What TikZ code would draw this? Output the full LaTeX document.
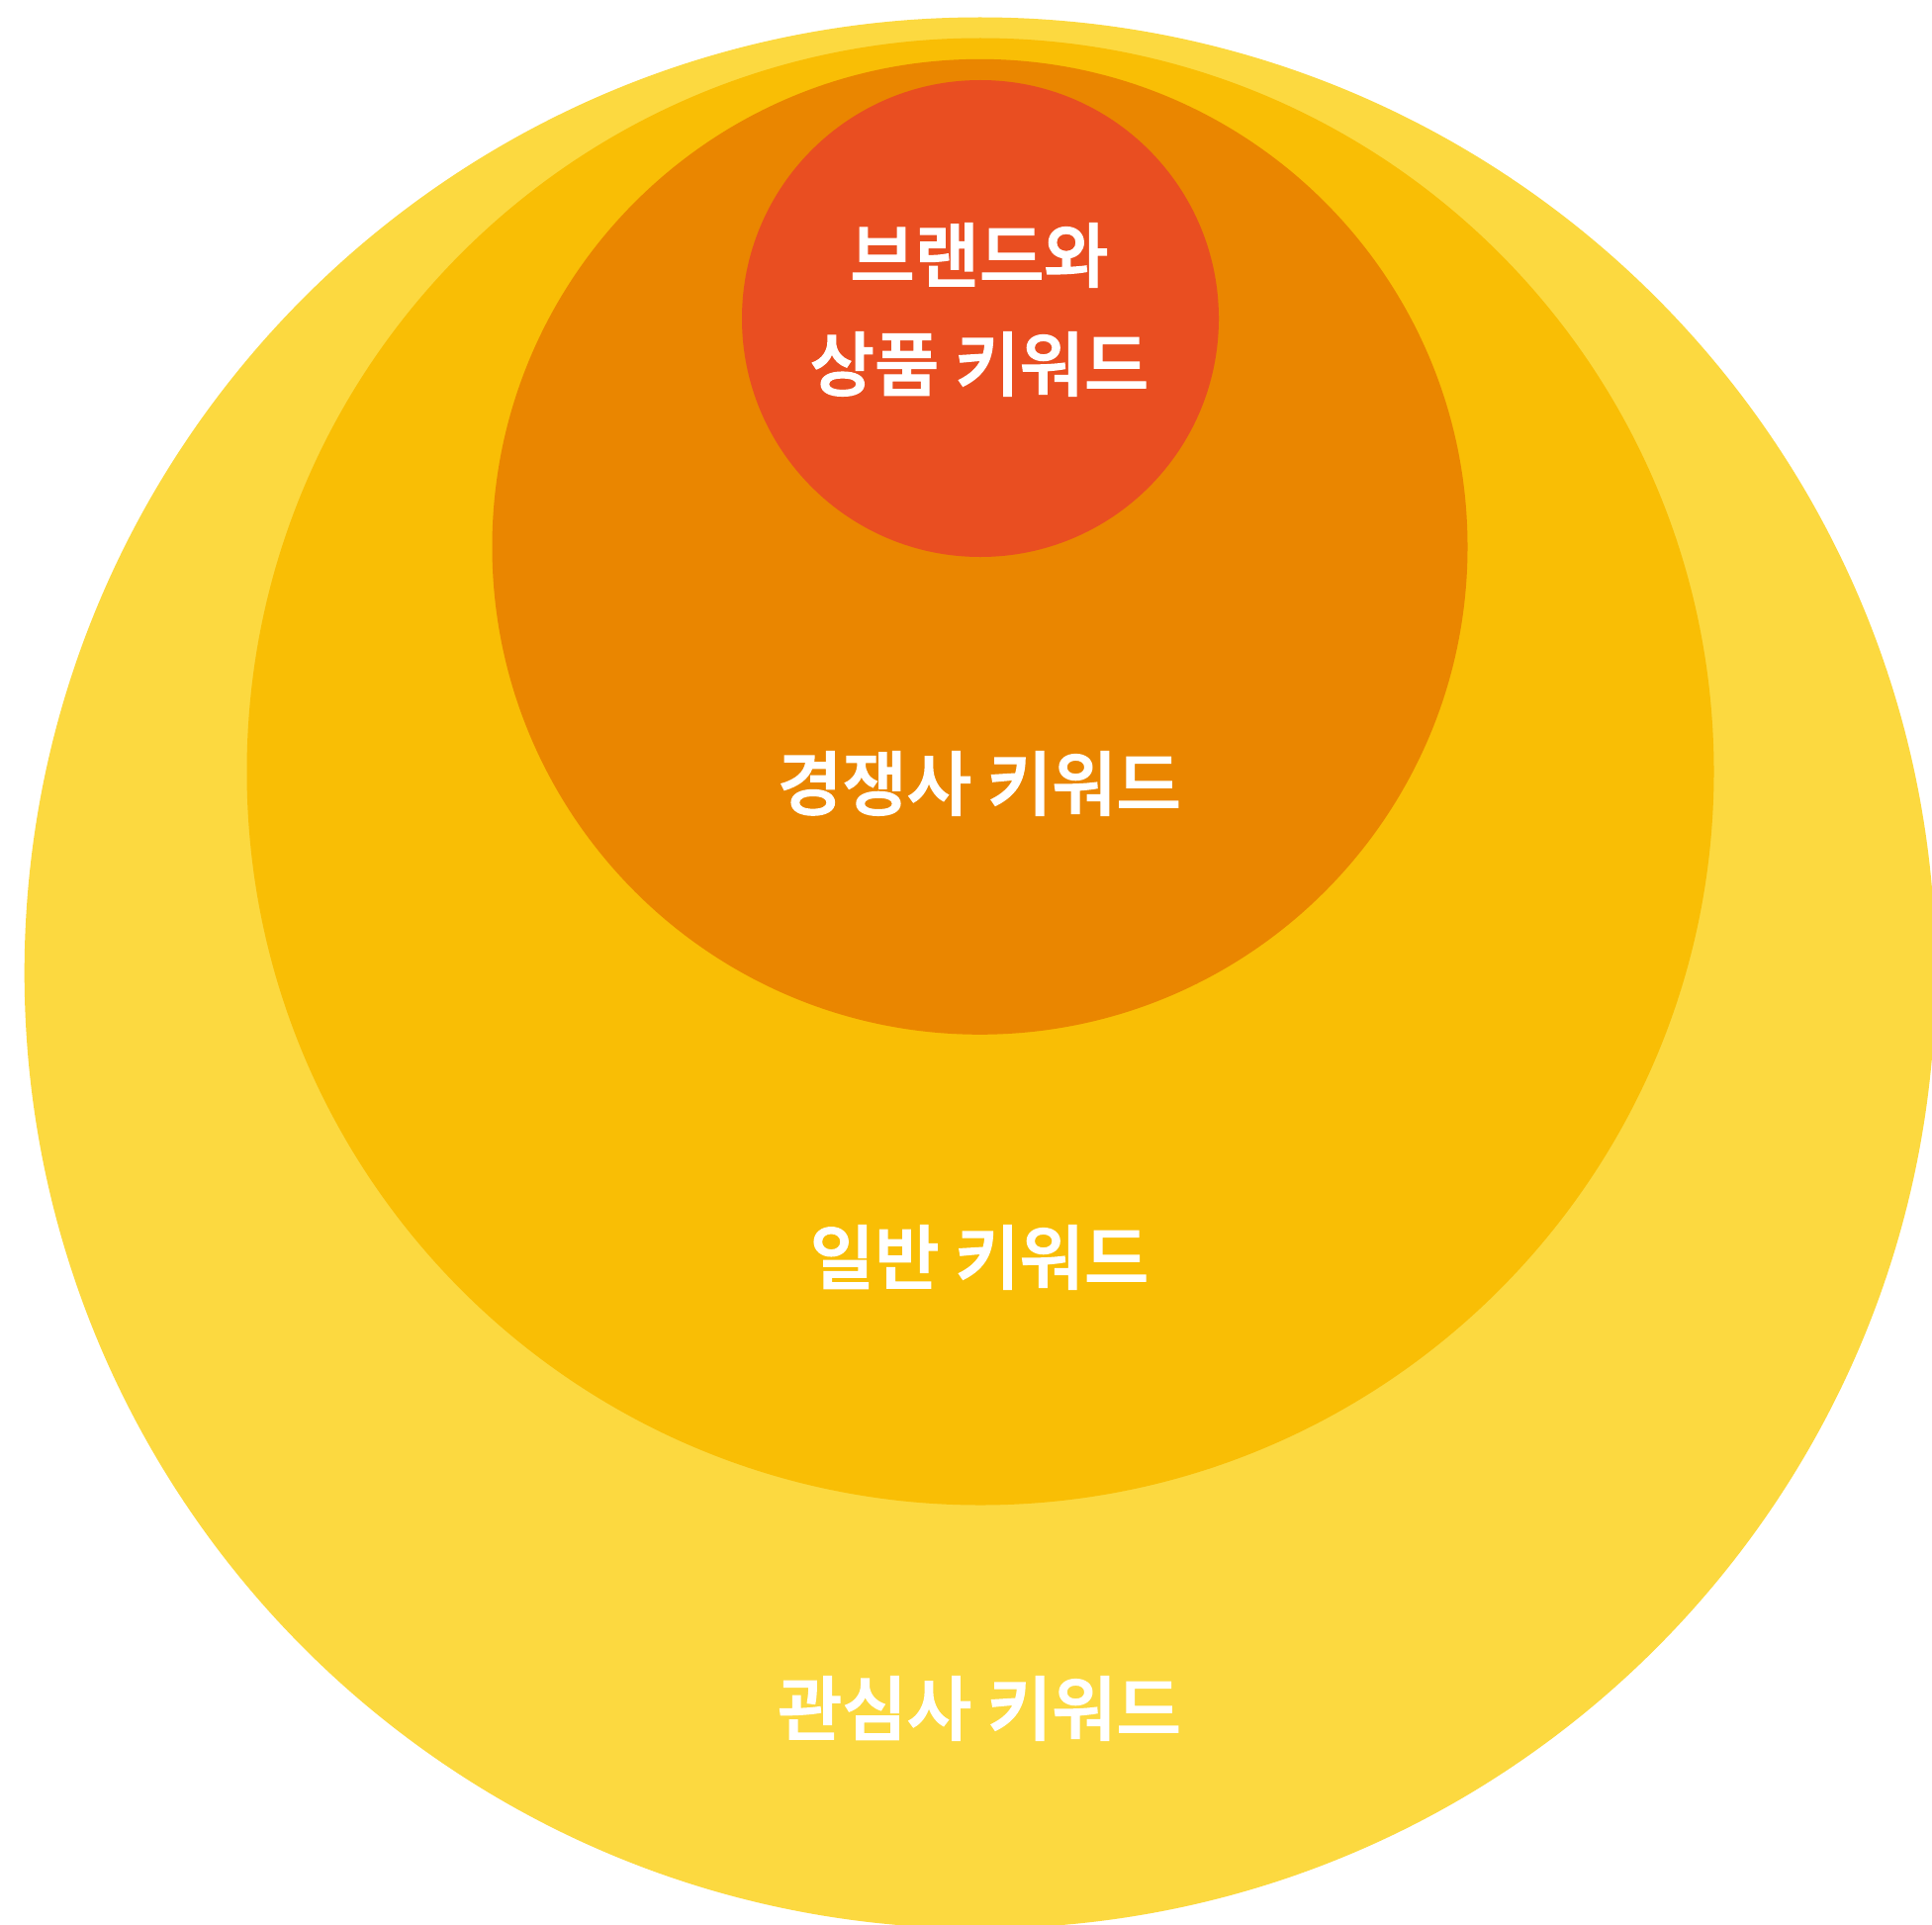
\documentclass[tikz,border=0pt]{standalone}
\usepackage{fontspec}
\newfontfamily\kr{Noto Sans CJK KR Medium}[FakeBold=2]
\definecolor{cYellow}{HTML}{FCD940}
\definecolor{cAmber}{HTML}{F9BE05}
\definecolor{cOrange}{HTML}{EA8600}
\definecolor{cRed}{HTML}{E94E21}
\tikzset{
  ring/.style={draw=none},
  lbl/.style={text=white, inner sep=0pt, align=center,
    font=\kr\fontsize{71}{110}\selectfont}
}
\begin{document}
\begin{tikzpicture}[x=1pt,y=-1pt]
\useasboundingbox (0,0) rectangle (1953,1945);
\clip (0,0) rectangle (1953,1945);
\fill[white] (0,0) rectangle (1953,1945);
\fill[ring, cYellow] (990.7,983.5) circle[radius=966];
\fill[ring, cAmber] (991,780) circle[radius=741.5];
\fill[ring, cOrange] (990.5,552.8) circle[radius=493];
\fill[ring, cRed] (991,322) circle[radius=241];
\node[lbl] (brand) at (990,313) {브랜드와\\상품 키워드};
\node[lbl] (comp) at (990,792) {경쟁사 키워드};
\node[lbl] (general) at (990,1271) {일반 키워드};
\node[lbl] (interest) at (990,1727) {관심사 키워드};
\end{tikzpicture}
\end{document}
